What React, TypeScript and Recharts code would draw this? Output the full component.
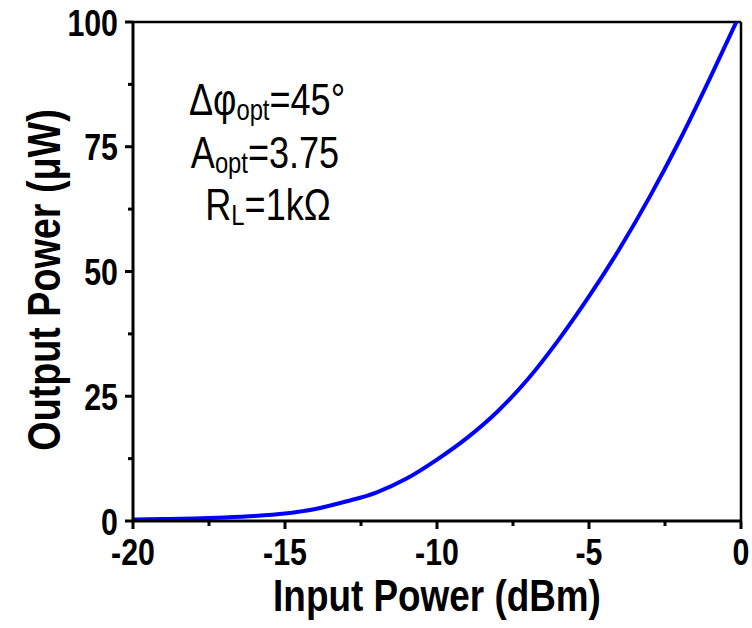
import React from 'react';
import { LineChart, Line, XAxis, YAxis, ReferenceLine, Label } from 'recharts';

// input power (dBm) and output power (µW)
const inputPower = [-20, -19, -18, -17, -16, -15, -14, -13, -12, -11, -10, -9, -8, -7, -6, -5, -4, -3, -2, -1, 0];
const outputPower = [0.3, 0.4, 0.5, 0.7, 1.0, 1.5, 2.4, 3.9, 5.7, 8.5, 12.3, 16.7, 22.0, 28.5, 36.3, 45.0, 54.5, 65.0, 76.5, 89.0, 102];

const xTicks = [-20, -17.5, -15, -12.5, -10, -7.5, -5, -2.5, 0];
const yTicks = [0, 12.5, 25, 37.5, 50, 62.5, 75, 87.5, 100];
const xMajor = [-20, -15, -10, -5, 0];
const yMajor = [0, 25, 50, 75, 100];

const data = inputPower.map((x, i) => ({ x, y: outputPower[i] }));

const FONT = '"Liberation Sans", Arial, sans-serif';
const SQ = 0.82;

const XTick = (props: any) => {
  const { x, y, payload } = props;
  const major = xMajor.includes(payload.value);
  return (
    <g>
      <line x1={x} x2={x} y1={y} y2={y + (major ? 8 : 5)} stroke="#000" strokeWidth={3} />
      {major && (
        <g transform={`translate(${x},${y + 44}) scale(${SQ},1)`}>
          <text textAnchor="middle" fontFamily={FONT} fontWeight="bold" fontSize={37} fill="#000">
            {payload.value}
          </text>
        </g>
      )}
    </g>
  );
};

const YTick = (props: any) => {
  const { x, y, payload } = props;
  const major = yMajor.includes(payload.value);
  return (
    <g>
      <line x1={x} x2={x - (major ? 8 : 5)} y1={y} y2={y} stroke="#000" strokeWidth={3} />
      {major && (
        <g transform={`translate(${x - 15},${y + 13.5}) scale(${SQ},1)`}>
          <text textAnchor="end" fontFamily={FONT} fontWeight="bold" fontSize={37} fill="#000">
            {payload.value}
          </text>
        </g>
      )}
    </g>
  );
};

const XTitle = (props: any) => {
  const { viewBox } = props;
  const cx = viewBox.x + viewBox.width / 2;
  return (
    <g transform={`translate(${cx},611) scale(${SQ},1)`}>
      <text textAnchor="middle" fontFamily={FONT} fontWeight="bold" fontSize={45} fill="#000">
        Input Power (dBm)
      </text>
    </g>
  );
};

const YTitle = () => (
  <g transform={`translate(60,280) rotate(-90) scale(${SQ},1)`}>
    <text textAnchor="middle" fontFamily={FONT} fontWeight="bold" fontSize={46} fill="#000">
      Output Power (μW)
    </text>
  </g>
);

const Sub = ({ main, sub, rest }: { main: string; sub: string; rest: string }) => (
  <>
    {main}
    <tspan fontSize={29} dy={5}>{sub}</tspan>
    <tspan dy={-5}>{rest}</tspan>
  </>
);

const App = () => {
  return (
    <div style={{ position: 'absolute', left: 0, top: 0, width: 752, height: 628, background: '#fff' }}>
      <LineChart width={752} height={628} data={data} margin={{ top: 22, right: 11, left: 0, bottom: 0 }}>
        <XAxis
          dataKey="x"
          type="number"
          domain={[-20, 0]}
          ticks={xTicks}
          interval={0}
          height={107}
          tickSize={0}
          tickMargin={0}
          tickLine={false}
          tick={<XTick />}
          axisLine={{ stroke: '#000', strokeWidth: 3 }}
        >
          <Label content={<XTitle />} />
        </XAxis>
        <YAxis
          type="number"
          domain={[0, 100]}
          allowDataOverflow
          ticks={yTicks}
          interval={0}
          width={133}
          tickSize={0}
          tickMargin={0}
          tickLine={false}
          tick={<YTick />}
          axisLine={{ stroke: '#000', strokeWidth: 3 }}
        >
          <Label content={<YTitle />} />
        </YAxis>
        <ReferenceLine y={100} stroke="#000" strokeWidth={2.5} />
        <ReferenceLine x={0} stroke="#000" strokeWidth={2.5} />
        <Line
          type="monotone"
          dataKey="y"
          stroke="#0000ff"
          strokeWidth={4}
          dot={false}
          isAnimationActive={false}
        />
      </LineChart>
      <svg width={752} height={628} style={{ position: 'absolute', left: 0, top: 0, pointerEvents: 'none' }}>
        <g fontFamily={FONT} fontSize={44} fill="#000">
          <g transform={`translate(267,115) scale(${SQ},1)`}>
            <text textAnchor="middle"><Sub main="Δφ" sub="opt" rest="=45°" /></text>
          </g>
          <g transform={`translate(265,168) scale(${SQ},1)`}>
            <text textAnchor="middle"><Sub main="A" sub="opt" rest="=3.75" /></text>
          </g>
          <g transform={`translate(268,220) scale(${SQ},1)`}>
            <text textAnchor="middle"><Sub main="R" sub="L" rest="=1kΩ" /></text>
          </g>
        </g>
      </svg>
    </div>
  );
};

export default App;
